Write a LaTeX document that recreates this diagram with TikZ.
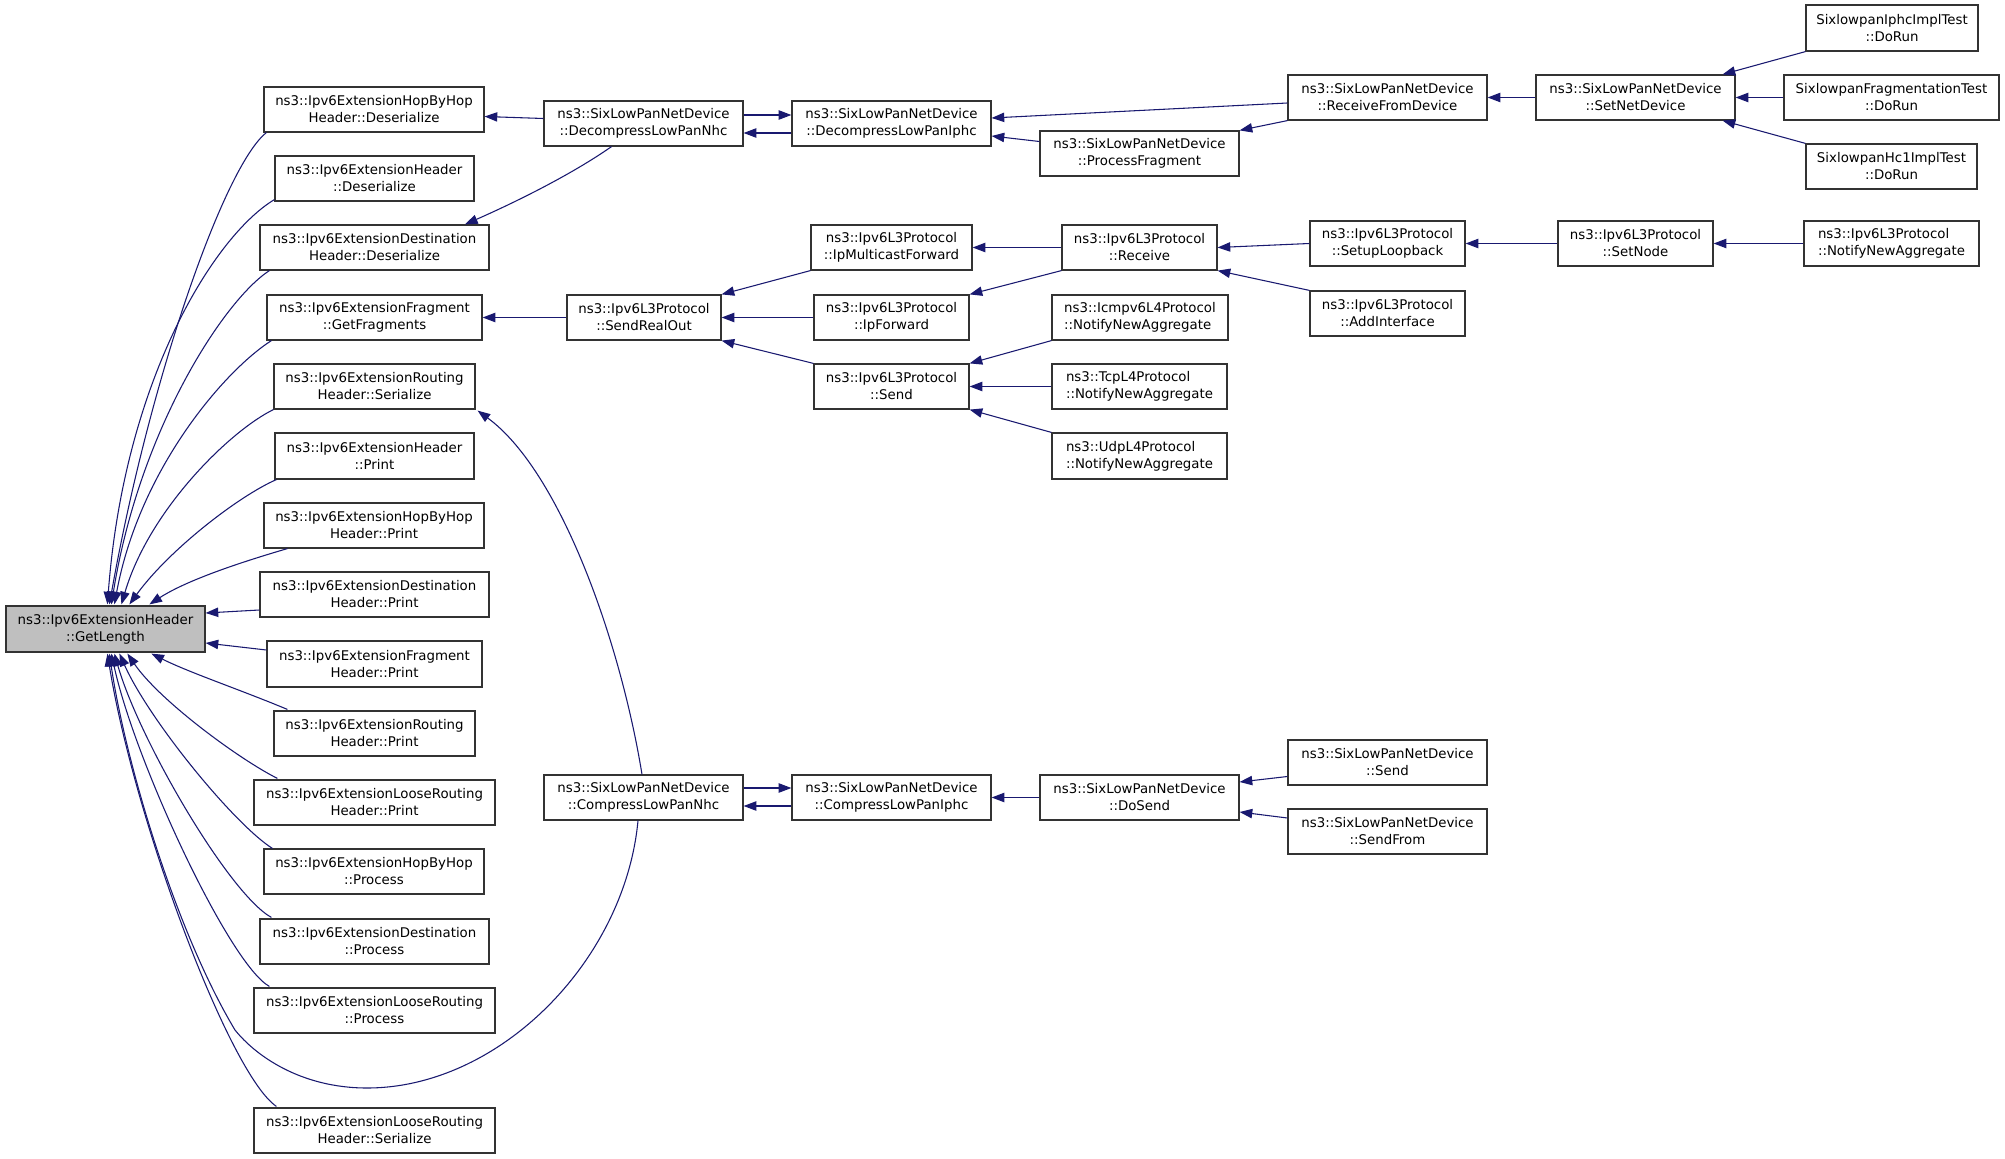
\documentclass[tikz,border=0pt]{standalone}
\usepackage{fontspec}
\setmainfont{DejaVu Sans}
\usetikzlibrary{arrows.meta,calc}
\definecolor{edgeblue}{HTML}{191970}
\newcommand\bnode[7][]{\node[box,#1,minimum width={(#5-#3)*0.75pt},minimum height={(#6-#4)*0.75pt}] (#2) at ({(#3+#5)/2},{(#4+#6)/2}) {#7};}
\begin{document}
\begin{tikzpicture}[x=0.75pt,y=-0.75pt,
  box/.style={draw=black!80,line width=0.9pt,fill=white,inner sep=0pt,align=center,
    font=\fontsize{10}{12.75}\selectfont},
  edge/.style={draw=edgeblue,line width=0.8pt,-{Triangle[length=9.5pt,width=7pt]}}]
\useasboundingbox[fill=white] (0,0) rectangle (2005,1159);
% left column
\bnode{hbhd}{264}{87}{484}{132}{ns3::Ipv6ExtensionHopByHop\\Header::Deserialize}
\bnode{hd}{275}{156}{474}{201}{ns3::Ipv6ExtensionHeader\\::Deserialize}
\bnode{dhd}{260}{225}{489}{270}{ns3::Ipv6ExtensionDestination\\Header::Deserialize}
\bnode{fgf}{267}{295}{482}{340}{ns3::Ipv6ExtensionFragment\\::GetFragments}
\bnode{rhs}{274}{364}{475}{409}{ns3::Ipv6ExtensionRouting\\Header::Serialize}
\bnode{hp}{275}{433}{474}{479}{ns3::Ipv6ExtensionHeader\\::Print}
\bnode{hbhp}{264}{503}{484}{548}{ns3::Ipv6ExtensionHopByHop\\Header::Print}
\bnode{dhp}{260}{572}{489}{617}{ns3::Ipv6ExtensionDestination\\Header::Print}
\bnode{fhp}{267}{641}{482}{687}{ns3::Ipv6ExtensionFragment\\Header::Print}
\bnode{rhp}{274}{711}{475}{756}{ns3::Ipv6ExtensionRouting\\Header::Print}
\bnode{lrhp}{254}{780}{495}{825}{ns3::Ipv6ExtensionLooseRouting\\Header::Print}
\bnode{hbhpr}{264}{849}{484}{894}{ns3::Ipv6ExtensionHopByHop\\::Process}
\bnode{dpr}{260}{919}{489}{964}{ns3::Ipv6ExtensionDestination\\::Process}
\bnode{lrpr}{254}{988}{495}{1033}{ns3::Ipv6ExtensionLooseRouting\\::Process}
\bnode{lrhs}{254}{1108}{495}{1153}{ns3::Ipv6ExtensionLooseRouting\\Header::Serialize}
\bnode[fill=black!25]{gl}{6}{606}{205}{652}{ns3::Ipv6ExtensionHeader\\::GetLength}
% other nodes
\bnode{dnhc}{544}{101}{743}{146}{ns3::SixLowPanNetDevice\\::DecompressLowPanNhc}
\bnode{diphc}{792}{101}{991}{146}{ns3::SixLowPanNetDevice\\::DecompressLowPanIphc}
\bnode{rfd}{1288}{75}{1487}{120}{ns3::SixLowPanNetDevice\\::ReceiveFromDevice}
\bnode{pf}{1040}{131}{1239}{176}{ns3::SixLowPanNetDevice\\::ProcessFragment}
\bnode{snd}{1536}{75}{1735}{120}{ns3::SixLowPanNetDevice\\::SetNetDevice}
\bnode{ta}{1806}{5}{1978}{51}{SixlowpanIphcImplTest\\::DoRun}
\bnode{tb}{1784}{75}{1999}{120}{SixlowpanFragmentationTest\\::DoRun}
\bnode{tc}{1806}{144}{1977}{189}{SixlowpanHc1ImplTest\\::DoRun}
\bnode{sro}{567}{295}{721}{340}{ns3::Ipv6L3Protocol\\::SendRealOut}
\bnode{imf}{811}{225}{972}{270}{ns3::Ipv6L3Protocol\\::IpMulticastForward}
\bnode{ipf}{814}{295}{969}{340}{ns3::Ipv6L3Protocol\\::IpForward}
\bnode{lts}{814}{364}{969}{409}{ns3::Ipv6L3Protocol\\::Send}
\bnode{rcv}{1062}{225}{1217}{270}{ns3::Ipv6L3Protocol\\::Receive}
\bnode{slb}{1310}{221}{1465}{266}{ns3::Ipv6L3Protocol\\::SetupLoopback}
\bnode{aif}{1310}{291}{1465}{336}{ns3::Ipv6L3Protocol\\::AddInterface}
\bnode{sn}{1558}{221}{1713}{266}{ns3::Ipv6L3Protocol\\::SetNode}
\bnode[align=left]{nna}{1804}{221}{1979}{266}{ns3::Ipv6L3Protocol\\::NotifyNewAggregate}
\bnode[align=left]{icmp}{1052}{295}{1228}{340}{ns3::Icmpv6L4Protocol\\::NotifyNewAggregate}
\bnode[align=left]{tcp}{1052}{364}{1227}{409}{ns3::TcpL4Protocol\\::NotifyNewAggregate}
\bnode[align=left]{udp}{1052}{433}{1227}{479}{ns3::UdpL4Protocol\\::NotifyNewAggregate}
\bnode{cnhc}{544}{775}{743}{820}{ns3::SixLowPanNetDevice\\::CompressLowPanNhc}
\bnode{ciphc}{792}{775}{991}{820}{ns3::SixLowPanNetDevice\\::CompressLowPanIphc}
\bnode{dos}{1040}{775}{1239}{820}{ns3::SixLowPanNetDevice\\::DoSend}
\bnode{sds}{1288}{740}{1487}{785}{ns3::SixLowPanNetDevice\\::Send}
\bnode{sdf}{1288}{809}{1487}{854}{ns3::SixLowPanNetDevice\\::SendFrom}
% curves into GetLength (top)
\draw[edge] ($(hbhd.south west)+(3,0)$) .. controls +(-42,33) and +(40,-225) .. ($(gl.north west)+(104,-1)$);
\draw[edge] ($(hd.south west)+(0,-2)$) .. controls +(-60,36) and +(17,-225) .. ($(gl.north west)+(102,-1)$);
\draw[edge] ($(dhd.south west)+(10,0)$) .. controls +(-45,29) and +(28,-175) .. ($(gl.north west)+(106,-1)$);
\draw[edge] ($(fgf.south west)+(5,0)$) .. controls +(-47,30) and +(25,-135) .. ($(gl.north west)+(109,-1)$);
\draw[edge] (rhs.south west) .. controls +(-43,21) and +(28,-95) .. ($(gl.north west)+(116,-1)$);
\draw[edge] ($(hp.south west)+(2,0)$) .. controls +(-37,16) and +(40,-55) .. ($(gl.north west)+(124,-1)$);
\draw[edge] ($(hbhp.south west)+(24,0)$) .. controls +(-48,14) and +(37,-24) .. ($(gl.north west)+(144,-1)$);
% right side into GetLength
\draw[edge] ($(dhp.west)+(0,15.5)$) -- ($(gl.east)+(0,-16)$);
\draw[edge] ($(fhp.west)+(0,-14)$) -- ($(gl.east)+(0,14)$);
% curves into GetLength (bottom)
\draw[edge] ($(rhp.north west)+(14,-1)$) .. controls +(-48,-20) and +(38,19) .. ($(gl.south west)+(146,1)$);
\draw[edge] ($(lrhp.north west)+(24,-1)$) .. controls +(-38,-19) and +(32,47) .. ($(gl.south west)+(122,1)$);
\draw[edge] ($(hbhpr.north west)+(9,0)$) .. controls +(-38,-24) and +(30,67) .. ($(gl.south west)+(114,1)$);
\draw[edge] ($(dpr.north west)+(12,-1)$) .. controls +(-42,-23) and +(25,87) .. ($(gl.south west)+(109,1)$);
\draw[edge] ($(lrpr.north west)+(16,-1)$) .. controls +(-40,-22) and +(23,107) .. ($(gl.south west)+(106,1)$);
\draw[edge] ($(lrhs.north west)+(23,-1)$) .. controls +(-47,-32) and +(27,167) .. ($(gl.south west)+(102,1)$);
\coordinate (cb1) at (367,1088);
\coordinate (cb2) at (235,1030);
\draw[edge] ($(cnhc.south)+(-5.5,0)$) .. controls (625,960) and (500,1088) .. (cb1)
  .. controls (300,1088) and (255,1055) .. (cb2)
  .. controls (175,930) and (125,760) .. ($(gl.south west)+(104,1)$);
% routing serialize
\draw[edge] ($(cnhc.north)+(-1.5,0)$) .. controls +(-22,-135) and +(82,60) .. ($(rhs.south east)+(2,1)$);
% decompress group
\draw[edge] ($(dnhc.west)+(0,-5)$) -- ($(hbhd.east)+(0,7)$);
\draw[edge] ($(dnhc.south)+(-32,0)$) .. controls +(-40,28) and +(50,-22) .. ($(dhd.north)+(90.5,0)$);
\draw[edge] ($(dnhc.east)+(0,-8.5)$) -- ($(diphc.west)+(0,-8.5)$);
\draw[edge] ($(diphc.west)+(0,9.5)$) -- ($(dnhc.east)+(0,9.5)$);
\draw[edge] ($(rfd.west)+(0,5.5)$) -- ($(diphc.east)+(0,-5.5)$);
\draw[edge] ($(pf.west)+(0,-12)$) -- ($(diphc.east)+(0,12.5)$);
\draw[edge] (rfd.south west) -- (pf.north east);
\draw[edge] (snd.west) -- (rfd.east);
\draw[edge] (ta.south west) -- ($(snd.north east)+(-13,0)$);
\draw[edge] (tb.west) -- (snd.east);
\draw[edge] (tc.north west) -- ($(snd.south east)+(-13,0)$);
% L3 group
\draw[edge] (sro.west) -- (fgf.east);
\draw[edge] (imf.south west) -- (sro.north east);
\draw[edge] (ipf.west) -- (sro.east);
\draw[edge] (lts.north west) -- (sro.south east);
\draw[edge] (rcv.west) -- (imf.east);
\draw[edge] (rcv.south west) -- (ipf.north east);
\draw[edge] (slb.west) -- (rcv.east);
\draw[edge] (aif.north west) -- (rcv.south east);
\draw[edge] (sn.west) -- (slb.east);
\draw[edge] (nna.west) -- (sn.east);
\draw[edge] (icmp.south west) -- (lts.north east);
\draw[edge] (tcp.west) -- (lts.east);
\draw[edge] (udp.north west) -- (lts.south east);
% compress group
\draw[edge] ($(cnhc.east)+(0,-9.5)$) -- ($(ciphc.west)+(0,-9.5)$);
\draw[edge] ($(ciphc.west)+(0,8.5)$) -- ($(cnhc.east)+(0,8.5)$);
\draw[edge] (dos.west) -- (ciphc.east);
\draw[edge] ($(sds.west)+(0,14)$) -- ($(dos.east)+(0,-15.5)$);
\draw[edge] ($(sdf.west)+(0,-13.5)$) -- ($(dos.east)+(0,14.5)$);
\end{tikzpicture}
\end{document}
